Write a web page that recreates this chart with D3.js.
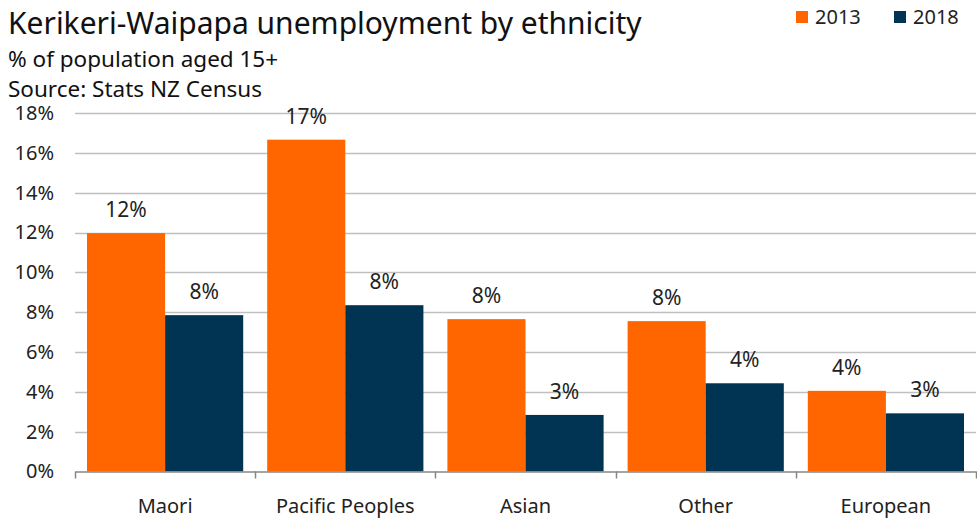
<!DOCTYPE html>
<html>
<head>
<meta charset="utf-8">
<script src="https://cdn.jsdelivr.net/npm/d3@7"></script>
<style>
  html, body { margin: 0; padding: 0; background: #fff; }
  svg { display: block; font-family: "Noto Sans", "Open Sans", sans-serif; }
</style>
</head>
<body>
<svg id="chart" width="977" height="521"></svg>
<script>
// Unemployment rate (% of population aged 15+) by ethnic group
const categories = ["Maori", "Pacific Peoples", "Asian", "Other", "European"];
const seriesNames = ["2013", "2018"];
const values2013 = [11.97, 16.66, 7.65, 7.55, 4.05];
const values2018 = [7.85, 8.35, 2.84, 4.43, 2.92];
const yTicks = [0, 2, 4, 6, 8, 10, 12, 14, 16, 18];
const colors = ["#FF6600", "#003452"];

const seriesValues = [values2013, values2018];
const rows = categories.map((c, i) => ({
  category: c,
  bars: seriesNames.map((s, j) => ({ series: s, value: seriesValues[j][i], color: colors[j] }))
}));

const svg = d3.select("#chart");
const plot = { left: 75, right: 976, top: 113, bottom: 471.5 };
const FONT = '"Noto Sans", "Open Sans", sans-serif';

const x0 = d3.scaleBand().domain(categories).range([plot.left, plot.right]).padding(0);
const x1 = d3.scaleBand().domain(seriesNames)
  .range([12, x0.bandwidth() - 12]).padding(0);
const y = d3.scaleLinear().domain([0, 18]).range([plot.bottom, plot.top]);

// Horizontal gridlines
svg.append("g")
  .selectAll("line")
  .data(yTicks.filter(t => t > 0))
  .join("line")
  .attr("x1", plot.left).attr("x2", plot.right)
  .attr("y1", d => Math.round(y(d)) + 0.5).attr("y2", d => Math.round(y(d)) + 0.5)
  .attr("stroke", "#BFBFBF").attr("stroke-width", 1.5);

// Y axis labels
const yAxis = d3.axisLeft(y).tickValues(yTicks).tickFormat(d => d + "%").tickSize(0).tickPadding(21);
const gy = svg.append("g").attr("transform", `translate(${plot.left},0)`).call(yAxis);
gy.attr("font-size", null).attr("font-family", null);
gy.select(".domain").remove();
gy.selectAll("text")
  .style("font-family", FONT)
  .style("font-size", "20px").attr("fill", "#222");

// Bars
const groups = svg.append("g")
  .selectAll("g")
  .data(rows)
  .join("g")
  .attr("transform", d => `translate(${x0(d.category)},0)`);

groups.selectAll("rect")
  .data(d => d.bars)
  .join("rect")
  .attr("x", d => x1(d.series))
  .attr("y", d => y(d.value))
  .attr("width", x1.bandwidth())
  .attr("height", d => y(0) - y(d.value))
  .attr("fill", d => d.color);

// Value labels
groups.selectAll("text.val")
  .data(d => d.bars)
  .join("text")
  .attr("class", "val")
  .attr("x", d => x1(d.series) + x1.bandwidth() / 2)
  .attr("y", d => y(d.value) - 16)
  .attr("text-anchor", "middle")
  .style("font-size", "21px").attr("fill", "#222")
  .text(d => Math.round(d.value) + "%");

// X axis
const xAxis = d3.axisBottom(x0).tickSize(0).tickPadding(27);
const gx = svg.append("g").attr("transform", `translate(0,${plot.bottom})`).call(xAxis);
gx.attr("font-size", null).attr("font-family", null);
gx.select(".domain").attr("stroke", "#868686").attr("stroke-width", 1.5);
gx.selectAll("text")
  .style("font-family", FONT)
  .style("font-size", "20px").attr("fill", "#222");
// Category separator ticks
svg.append("g")
  .selectAll("line")
  .data(categories.map(c => x0(c)).concat([plot.right]))
  .join("line")
  .attr("x1", d => Math.round(d) + 0.5).attr("x2", d => Math.round(d) + 0.5)
  .attr("y1", plot.bottom).attr("y2", plot.bottom + 7)
  .attr("stroke", "#868686").attr("stroke-width", 1.5);

// Titles
svg.append("text").attr("x", 8).attr("y", 34)
  .style("font-size", "30px").attr("fill", "#111")
  .text("Kerikeri-Waipapa unemployment by ethnicity");
svg.append("text").attr("x", 8).attr("y", 67)
  .style("font-size", "22.5px").attr("fill", "#111")
  .text("% of population aged 15+");
svg.append("text").attr("x", 8).attr("y", 97)
  .style("font-size", "22.5px").attr("fill", "#111")
  .text("Source: Stats NZ Census");

// Legend
const legend = svg.append("g").selectAll("g")
  .data(seriesNames)
  .join("g")
  .attr("transform", (d, i) => `translate(${796 + i * 98},11)`);
legend.append("rect").attr("width", 12).attr("height", 12).attr("fill", (d, i) => colors[i]);
legend.append("text").attr("x", 19).attr("y", 13)
  .style("font-size", "20px").attr("fill", "#222").text(d => d);
</script>
</body>
</html>
